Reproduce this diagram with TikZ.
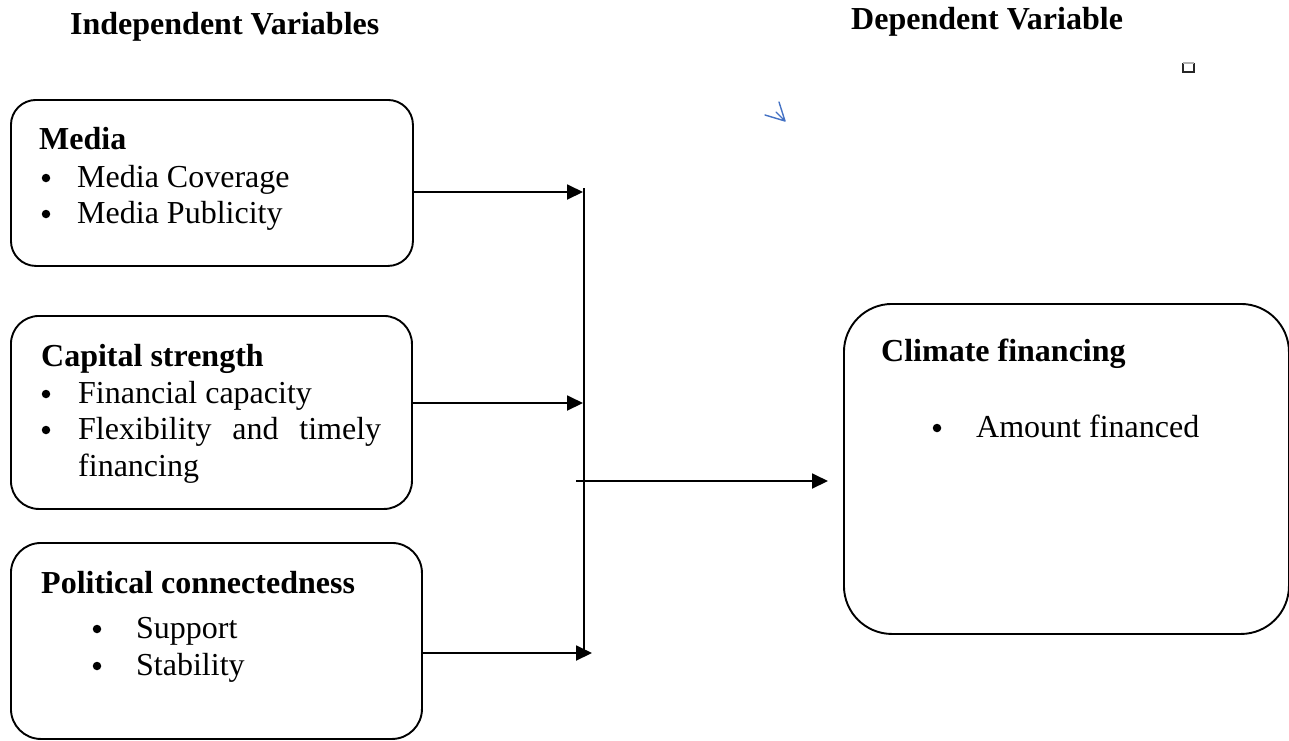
\documentclass[tikz,border=0pt]{standalone}
\usepackage{fontspec}
\setmainfont{Liberation Serif}
\usetikzlibrary{arrows.meta}
\tikzset{
  x=1pt, y=-1pt,
  box/.style={draw, line width=1.9pt, rounded corners=#1, anchor=north west, inner sep=0pt},
  arr/.style={line width=1.9pt, -{Triangle[length=16pt,width=15pt]}},
  ln/.style={line width=1.9pt},
  txt/.style={anchor=base west, inner sep=0pt, font=\fontsize{32}{37}\selectfont},
  ttl/.style={anchor=base west, inner sep=0pt, font=\fontsize{32}{37}\selectfont\bfseries},
  head/.style={anchor=base west, inner sep=0pt, font=\fontsize{32}{37}\selectfont\bfseries},
  bul/.style={circle, fill=black, draw=none, inner sep=0pt, minimum size=8.5pt},
}
\begin{document}
\begin{tikzpicture}
\useasboundingbox (0,0) rectangle (1289,740);
% headings
\node[head] (hind) at (70,34) {Independent Variables};
\node[head] (hdep) at (851,29) {Dependent Variable};
% stray marks
\draw[line width=1.4pt, black!85] (1183,63) -- (1183,72) -- (1194,72) -- (1194,63);
\draw[line width=1.2pt, black!30] (1183,63) -- (1194,63);
\draw[line width=1.4pt, color={rgb,255:red,68;green,114;blue,196}, line cap=round, line join=round]
  (765,115) -- (785,121) -- (779,102) (776,112) -- (785,121);
% boxes
\node[box=25pt, minimum width=402pt, minimum height=166pt] (media) at (10,99) {};
\node[box=28pt, minimum width=401pt, minimum height=193pt] (cap) at (10,315) {};
\node[box=30pt, minimum width=411pt, minimum height=196pt] (pol) at (10,542) {};
\node[box=48pt, minimum width=445pt, minimum height=330pt] (clim) at (843,303) {};
% media text
\node[ttl] (tmedia) at (39,149) {Media};
\node[bul] (b1) at (46,178) {};
\node[txt] (m1) at (77,187) {Media Coverage};
\node[bul] (b2) at (46,214) {};
\node[txt] (m2) at (77,223) {Media Publicity};
% capital text
\node[ttl] (tcap) at (41,366) {Capital strength};
\node[bul] (b3) at (46,394) {};
\node[txt] (c1) at (78,403) {Financial capacity};
\node[bul] (b4) at (46,430) {};
\node[txt] (c2) at (78,439) {\hbox to 303pt{Flexibility\hfill and\hfill timely}};
\begin{scope}
\clip (0,300) rectangle (420,488);
\node[txt] (c3) at (78,476) {financing};
\end{scope}
% political text
\node[ttl] (tpol) at (41,593) {Political connectedness};
\node[bul] (b5) at (97,629) {};
\node[txt] (p1) at (136,638) {Support};
\node[bul] (b6) at (97,666) {};
\node[txt] (p2) at (136,675) {Stability};
% climate text
\node[ttl] (tclim) at (881,361) {Climate financing};
\node[bul] (b7) at (937,428) {};
\node[txt] (cl1) at (976,437) {Amount financed};
% connectors
\coordinate (jtop) at (584,188);
\coordinate (jbot) at (584,653);
\coordinate (j1) at (583,192);
\coordinate (j2) at (583,403);
\coordinate (j4) at (592,653);
\coordinate (ms) at (576,481);
\coordinate (me) at (828,481);
\draw[ln] (jtop) -- (jbot);
\draw[arr] (media.east |- j1) -- (j1);
\draw[arr] (cap.east |- j2) -- (j2);
\draw[arr] (pol.east |- j4) -- (j4);
\draw[arr] (ms) -- (me);
\end{tikzpicture}
\end{document}
